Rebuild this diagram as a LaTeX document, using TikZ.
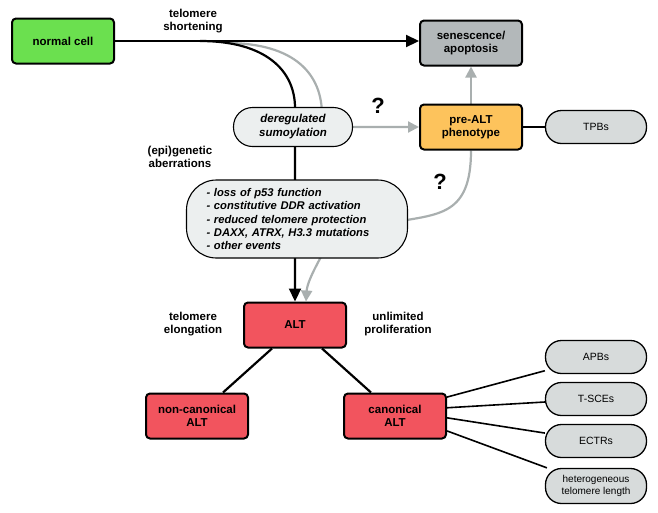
\documentclass[tikz,border=0pt]{standalone}
\usepackage{xcolor}
\usepackage{fontspec}
\setmainfont{Liberation Sans}
\usetikzlibrary{arrows.meta, backgrounds}
\definecolor{cellgreen}{HTML}{6BE04F}
\definecolor{sengray}{HTML}{B3B8BA}
\definecolor{prealtorange}{HTML}{FDC35C}
\definecolor{altred}{HTML}{F2545E}
\definecolor{featgray}{HTML}{D7DBDB}
\definecolor{eventgray}{HTML}{ECEFEF}
\definecolor{arrowgray}{HTML}{A9AFAF}

\begin{document}
\begin{tikzpicture}[x=1pt, y=-1pt,
    state/.style={rectangle, draw=black, line width=2pt, rounded corners=4pt, minimum width=102pt, minimum height=45pt, align=center, font=\bfseries\fontsize{11.5}{13.5}\selectfont},
    feature/.style={rectangle, draw=black, line width=1.3pt, rounded corners=16pt, fill=featgray, minimum width=101pt, minimum height=33pt, align=center, font=\fontsize{10.5}{12}\selectfont},
    event/.style={rectangle, draw=black, line width=1.1pt, fill=eventgray, font=\bfseries\itshape\fontsize{11.2}{13.3}\selectfont},
    note/.style={align=center, font=\bfseries\fontsize{11.5}{13}\selectfont},
    qmark/.style={font=\bfseries\fontsize{22}{22}\selectfont},
    mainarrow/.style={line width=2.2pt, -{Triangle[length=13pt,width=12pt]}},
    greyarrow/.style={line width=2.2pt, draw=arrowgray, -{Triangle[length=11pt,width=11pt]}},
]
\useasboundingbox (0,0) rectangle (658,512);

% States
\node[state, fill=cellgreen] (normal) at (63,41) {normal cell};
\node[state, fill=sengray] (senes) at (471,43) {senescence/\\apoptosis};
\node[state, fill=prealtorange] (prealt) at (471,127) {pre-ALT\\phenotype};
\node[state, fill=altred] (alt) at (295,325) {ALT};
\node[state, fill=altred] (noncanon) at (197,416) {non-canonical\\ALT};
\node[state, fill=altred] (canon) at (395,416) {canonical\\ALT};

% Events
\node[event, rounded corners=19pt, minimum width=119pt, minimum height=39pt, align=center, font=\bfseries\itshape\fontsize{11.5}{14}\selectfont] (sumo) at (293,127) {deregulated\\sumoylation};
\node[event, rounded corners=30pt, text width=181pt, inner xsep=20pt, minimum height=78pt, align=left] (events) at (297,219) {- loss of p53 function\\- constitutive DDR activation\\- reduced telomere protection\\- DAXX, ATRX, H3.3 mutations\\- other events};

% Features
\node[feature] (tpbs) at (596,127) {TPBs};
\node[feature] (apbs) at (596,357) {APBs};
\node[feature] (tsces) at (596,399) {T-SCEs};
\node[feature] (ectrs) at (596,441) {ECTRs};
\node[feature, minimum height=35pt, font=\fontsize{10}{12}\selectfont] (hetero) at (596,486) {heterogeneous\\telomere length};

% Notes
\node[note] (shorten) at (193,21) {telomere\\shortening};
\node[note] (epi) at (180,157) {(epi)genetic\\aberrations};
\node[note] (elong) at (193,324) {telomere\\elongation};
\node[note] (prolif) at (398,324) {unlimited\\proliferation};
\node[qmark] (q1) at (378,106) {?};
\node[qmark] (q2) at (440,182) {?};

\coordinate (split) at (200,41);
\coordinate (greysplit) at (226,43);

% Connectors
\begin{scope}[on background layer]
\draw[greyarrow] (greysplit) .. controls (296,43) and (322,75) .. (322,115) |- (prealt.west);
\draw[greyarrow] (prealt.south) .. controls (471,215) and (440,214) .. (395,222) -- (322,255) .. controls (311,275) and (307,285) .. ([xshift=11pt]alt.north);
\draw[greyarrow] (prealt) -- (senes);
\draw[mainarrow] (split) .. controls (265,41) and (295,70) .. (295,108) -- (alt);
\end{scope}
\draw[mainarrow] (normal.east) -- (normal.east -| senes.west);
\draw[line width=1.6pt] (prealt) -- (tpbs);
\draw[line width=2.2pt] ([xshift=-23pt]alt.south) -- ([xshift=26pt]noncanon.north);
\draw[line width=2.2pt] ([xshift=27pt]alt.south) -- ([xshift=-24pt]canon.north);
\draw[line width=1.6pt] (canon.20) -- (apbs);
\draw[line width=1.6pt] (canon.9) -- (tsces);
\draw[line width=1.6pt] (canon.-2) -- (ectrs);
\draw[line width=1.6pt] (canon.-16) -- (hetero);

\end{tikzpicture}
\end{document}
